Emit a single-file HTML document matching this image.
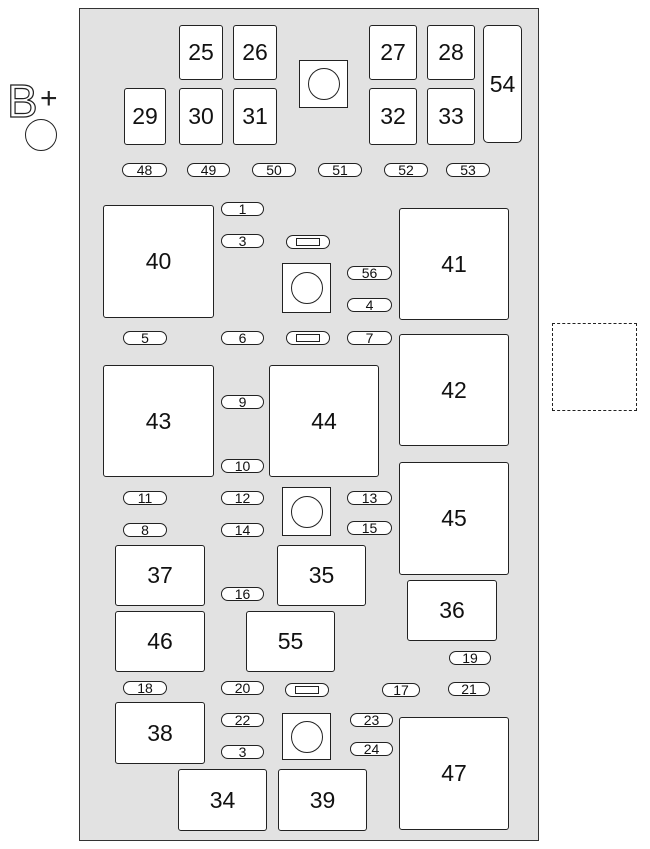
<!DOCTYPE html>
<html><head><style>
body{margin:0;width:650px;height:849px;background:#fff;position:relative;overflow:hidden;font-family:"Liberation Sans",sans-serif;}
.p{position:absolute;left:79px;top:8px;width:460px;height:833px;background:#e2e2e2;border:1.5px solid #333;box-sizing:border-box;}
.b{position:absolute;background:#fff;border:1.3px solid #222;border-radius:3px;box-sizing:border-box;display:flex;align-items:center;justify-content:center;font-size:23px;color:#111;}
.f{position:absolute;height:14px;background:#fff;border:1.3px solid #222;border-radius:7px;box-sizing:border-box;display:flex;align-items:center;justify-content:center;font-size:14px;line-height:12px;color:#111;}
.c{position:absolute;background:#fff;border:1.3px solid #222;box-sizing:border-box;display:flex;align-items:center;justify-content:center;}
.c div{width:30px;height:30px;border:1.3px solid #222;border-radius:50%;}
.a::after{content:"";width:22px;height:6px;border:1px solid #222;}
</style></head><body>
<div class="p"></div>
<div style="position:absolute;left:7px;top:76px;font-size:46px;line-height:50px;color:#fff;-webkit-text-stroke:1.2px #222;">B</div>
<div style="position:absolute;left:40px;top:82px;font-size:30px;color:#222;">+</div>
<div style="position:absolute;left:25px;top:119px;width:32px;height:32px;border:1.5px solid #222;border-radius:50%;box-sizing:border-box;"></div>
<div style="position:absolute;left:552px;top:323px;width:85px;height:88px;border:1.5px dashed #222;box-sizing:border-box;"></div>

<div class="b" style="left:179px;top:25px;width:44px;height:55px">25</div>
<div class="b" style="left:233px;top:25px;width:44px;height:55px">26</div>
<div class="b" style="left:369px;top:25px;width:48px;height:55px">27</div>
<div class="b" style="left:427px;top:25px;width:48px;height:55px">28</div>
<div class="b" style="left:483px;top:25px;width:39px;height:118px;border-radius:5px">54</div>
<div class="b" style="left:124px;top:88px;width:42px;height:57px">29</div>
<div class="b" style="left:179px;top:88px;width:44px;height:57px">30</div>
<div class="b" style="left:233px;top:88px;width:44px;height:57px">31</div>
<div class="b" style="left:369px;top:88px;width:48px;height:57px">32</div>
<div class="b" style="left:427px;top:88px;width:48px;height:57px">33</div>
<div class="c" style="left:299px;top:60px;width:49px;height:48px"><div></div></div>

<div class="f" style="left:122px;top:163px;width:45px">48</div>
<div class="f" style="left:187px;top:163px;width:43px">49</div>
<div class="f" style="left:252px;top:163px;width:44px">50</div>
<div class="f" style="left:318px;top:163px;width:44px">51</div>
<div class="f" style="left:384px;top:163px;width:44px">52</div>
<div class="f" style="left:446px;top:163px;width:44px">53</div>

<div class="b" style="left:103px;top:205px;width:111px;height:113px">40</div>
<div class="b" style="left:399px;top:208px;width:110px;height:112px">41</div>
<div class="f" style="left:221px;top:202px;width:43px">1</div>
<div class="f" style="left:221px;top:234px;width:43px">3</div>
<div class="f a" style="left:286px;top:235px;width:44px"></div>
<div class="c" style="left:282px;top:263px;width:49px;height:50px"><div></div></div>
<div class="f" style="left:347px;top:266px;width:45px">56</div>
<div class="f" style="left:347px;top:298px;width:45px">4</div>
<div class="f" style="left:123px;top:331px;width:44px">5</div>
<div class="f" style="left:221px;top:331px;width:43px">6</div>
<div class="f a" style="left:286px;top:331px;width:44px"></div>
<div class="f" style="left:347px;top:331px;width:45px">7</div>

<div class="b" style="left:399px;top:334px;width:110px;height:112px">42</div>
<div class="b" style="left:103px;top:365px;width:111px;height:112px">43</div>
<div class="b" style="left:269px;top:365px;width:110px;height:112px">44</div>
<div class="f" style="left:221px;top:395px;width:43px">9</div>
<div class="f" style="left:221px;top:459px;width:43px">10</div>
<div class="b" style="left:399px;top:462px;width:110px;height:113px">45</div>

<div class="f" style="left:123px;top:491px;width:44px">11</div>
<div class="f" style="left:221px;top:491px;width:43px">12</div>
<div class="c" style="left:282px;top:487px;width:49px;height:49px"><div></div></div>
<div class="f" style="left:347px;top:491px;width:45px">13</div>
<div class="f" style="left:123px;top:523px;width:44px">8</div>
<div class="f" style="left:221px;top:523px;width:43px">14</div>
<div class="f" style="left:347px;top:521px;width:45px">15</div>

<div class="b" style="left:115px;top:545px;width:90px;height:61px">37</div>
<div class="b" style="left:277px;top:545px;width:89px;height:61px">35</div>
<div class="f" style="left:221px;top:587px;width:43px">16</div>
<div class="b" style="left:407px;top:580px;width:90px;height:61px">36</div>
<div class="b" style="left:115px;top:611px;width:90px;height:61px">46</div>
<div class="b" style="left:246px;top:611px;width:89px;height:61px">55</div>

<div class="f" style="left:449px;top:651px;width:42px">19</div>
<div class="f" style="left:123px;top:681px;width:44px">18</div>
<div class="f" style="left:221px;top:681px;width:43px">20</div>
<div class="f a" style="left:285px;top:683px;width:44px"></div>
<div class="f" style="left:382px;top:683px;width:38px">17</div>
<div class="f" style="left:448px;top:682px;width:42px">21</div>

<div class="b" style="left:115px;top:702px;width:90px;height:62px">38</div>
<div class="f" style="left:221px;top:713px;width:43px">22</div>
<div class="f" style="left:221px;top:745px;width:43px">3</div>
<div class="c" style="left:282px;top:713px;width:49px;height:47px"><div></div></div>
<div class="f" style="left:350px;top:713px;width:43px">23</div>
<div class="f" style="left:350px;top:742px;width:43px">24</div>
<div class="b" style="left:399px;top:717px;width:110px;height:113px">47</div>
<div class="b" style="left:178px;top:769px;width:89px;height:62px">34</div>
<div class="b" style="left:278px;top:769px;width:89px;height:62px">39</div>
</body></html>
